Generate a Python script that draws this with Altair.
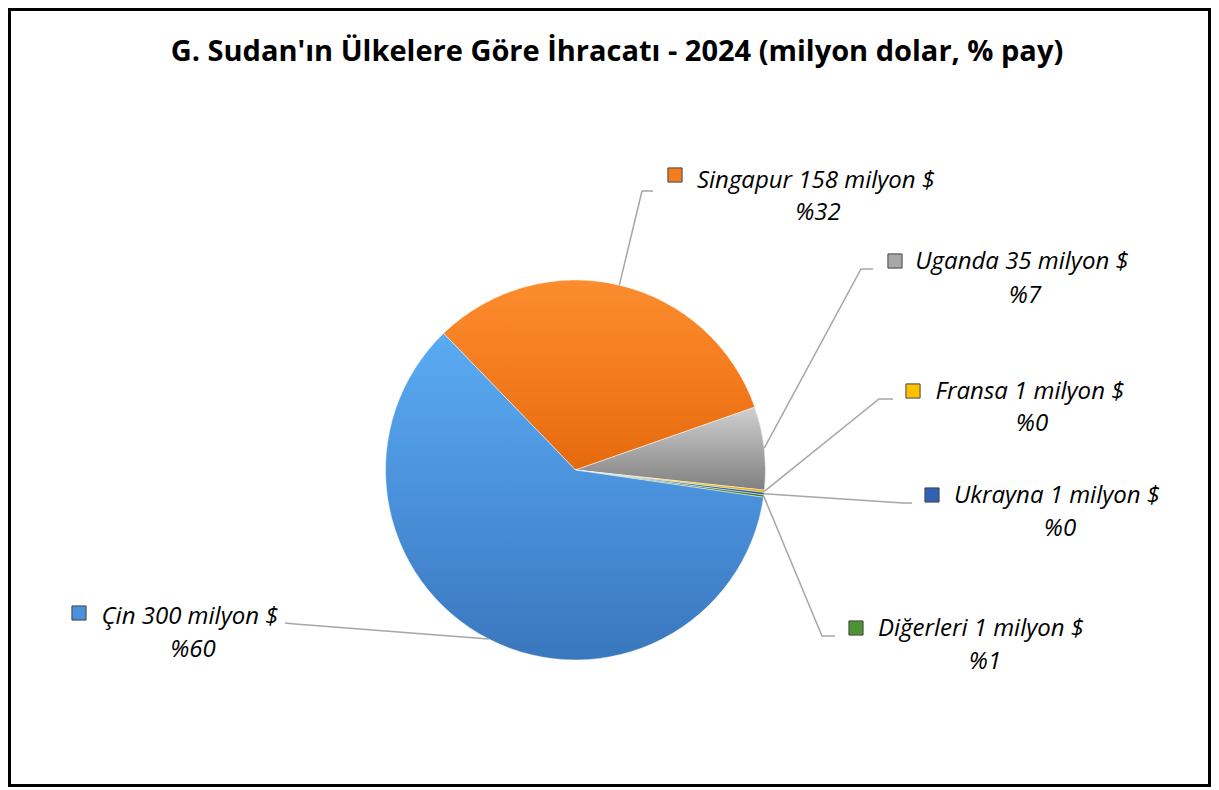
import math
import altair as alt
import pandas as pd

# ---- data ----
countries = ["Singapur", "Uganda", "Fransa", "Ukrayna", "Diğerleri", "Çin"]
values = [158, 35, 1, 1, 1, 300]          # milyon $
shares = [32, 7, 0, 0, 1, 60]             # % pay, as printed
colors = ["#f47b1e", "#a8a8a8", "#ffc000", "#2f62b5", "#4e9333", "#4a91db"]
grad_light = ["#fb8d2e", "#d0d0d0", "#ffd84a", "#4a80d0", "#6cb84a", "#5aabf2"]
grad_dark = ["#e56a0e", "#808080", "#e0a800", "#234c94", "#3b7425", "#3a77bd"]
title_text = "G. Sudan'ın Ülkelere Göre İhracatı - 2024 (milyon dolar, % pay)"

# ---- layout (chart pixel coords) ----
W, H = 1203, 779
OFF = 8
CX, CY, R = 575.5 - OFF, 470 - OFF, 190
START_DEG = -44.0
lab_line1 = [(816, 181), (1022, 262), (1030, 392), (1057, 496), (981, 629), (190, 617)]
lab_line2 = [(818, 213), (1025, 296), (1032, 424), (1060, 529), (985, 662), (193, 650)]
lab_marker = [(675, 175), (895, 261), (913, 391), (932, 495), (856, 628), (79, 613)]
lead_start = [(653, 191), (873, 269), (893, 399), (912, 503), (835, 636), (285, 623)]
lead_elbow = [(642, 191), (861, 269), (879, 399), (903, 503), (822, 636), (295, 624)]

total = sum(values)
start = math.radians(START_DEG)

cum0, cum1, acc = [], [], 0
for v in values:
    cum0.append(acc)
    acc += v
    cum1.append(acc)
df = pd.DataFrame({"ulke": countries, "deger": values, "t0": cum0, "t1": cum1})

rows = []
for i, c in enumerate(countries):
    mid = START_DEG + (cum0[i] + values[i] / 2) / total * 360.0
    ex = CX + R * math.sin(math.radians(mid))
    ey = CY - R * math.cos(math.radians(mid))
    pts = [(lead_start[i][0] - OFF, lead_start[i][1] - OFF),
           (lead_elbow[i][0] - OFF, lead_elbow[i][1] - OFF),
           (ex, ey)]
    for k, (px, py) in enumerate(pts):
        rows.append({"ulke": c, "k": k, "px": px, "py": py})
lead_df = pd.DataFrame(rows)

lab_df = pd.DataFrame({
    "ulke": countries,
    "t1": [f"{c} {v} milyon $" for c, v in zip(countries, values)],
    "t2": [f"%{s}" for s in shares],
    "x1": [p[0] - OFF for p in lab_line1], "y1": [p[1] - OFF for p in lab_line1],
    "x2": [p[0] - OFF for p in lab_line2], "y2": [p[1] - OFF for p in lab_line2],
    "mx": [p[0] - OFF for p in lab_marker], "my": [p[1] - OFF for p in lab_marker],
})

color_scale = alt.Scale(domain=countries, range=colors)
theta_scale = alt.Scale(domain=[0, total], range=[start, start + 2 * math.pi])
FONT = "Open Sans"

slices = []
for i, c in enumerate(countries):
    g = alt.Gradient(gradient="linear", x1=0, y1=0, x2=0, y2=1,
                     stops=[alt.GradientStop(color=grad_light[i], offset=0),
                            alt.GradientStop(color=colors[i], offset=0.5),
                            alt.GradientStop(color=grad_dark[i], offset=1)])
    s = alt.Chart(df).transform_filter(alt.datum.ulke == c).mark_arc(
        radius=R, fill=g, stroke="#ffffff", strokeOpacity=0.6, strokeWidth=0.8
    ).encode(
        theta=alt.Theta("t0:Q", scale=theta_scale),
        theta2="t1:Q",
        x=alt.value(CX), y=alt.value(CY),
    )
    slices.append(s)

leaders = alt.Chart(lead_df).mark_line(color="#a6a6a6", strokeWidth=1.5).encode(
    x=alt.X("px:Q", scale=None, axis=None),
    y=alt.Y("py:Q", scale=None, axis=None),
    detail="ulke:N",
    order="k:Q",
)

markers = alt.Chart(lab_df).mark_square(size=200, strokeWidth=1, stroke="#444444", opacity=1).encode(
    x=alt.X("mx:Q", scale=None, axis=None),
    y=alt.Y("my:Q", scale=None, axis=None),
    color=alt.Color("ulke:N", scale=color_scale, legend=None),
)

txt1 = alt.Chart(lab_df).mark_text(font=FONT, fontSize=24, fontStyle="italic", color="#000000",
                                   align="center", baseline="middle").encode(
    x=alt.X("x1:Q", scale=None, axis=None),
    y=alt.Y("y1:Q", scale=None, axis=None),
    text="t1:N",
)
txt2 = alt.Chart(lab_df).mark_text(font=FONT, fontSize=24, fontStyle="italic", color="#000000",
                                   align="center", baseline="middle").encode(
    x=alt.X("x2:Q", scale=None, axis=None),
    y=alt.Y("y2:Q", scale=None, axis=None),
    text="t2:N",
)

title_df = pd.DataFrame({"t": [title_text]})
title = alt.Chart(title_df).mark_text(font=FONT, fontSize=29, fontWeight="bold", color="#000000",
                                      align="center", baseline="middle").encode(
    x=alt.value(617 - OFF), y=alt.value(52 - OFF), text="t:N",
)

border = alt.Chart(title_df).mark_rect(fill=None, fillOpacity=0, stroke="#000000", strokeWidth=3).encode(
    x=alt.value(1.5), x2=alt.value(W - 1.5), y=alt.value(1.5), y2=alt.value(H - 1.5),
)

chart = alt.layer(*slices, leaders, markers, txt1, txt2, title, border).properties(
    width=W, height=H, padding=0, autosize=alt.AutoSizeParams(type="none"),
).configure(background="#ffffff").configure_view(strokeWidth=0)

chart.save("out.html", embed_options={"renderer": "svg", "actions": False})
